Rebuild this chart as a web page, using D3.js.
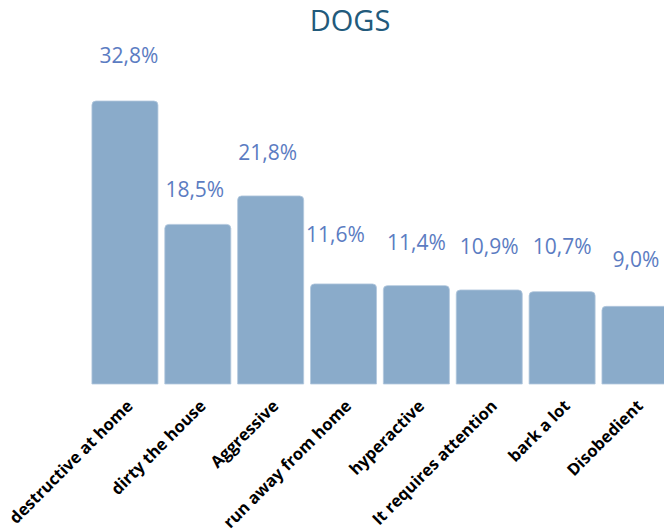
<!DOCTYPE html>
<html>
<head>
<meta charset="utf-8">
<script src="https://cdn.jsdelivr.net/npm/d3@7"></script>
<style>
  body { margin: 0; background: #fff; }
  svg { display: block; }
</style>
</head>
<body>
<div id="chart"></div>
<script>
// chart data
var title = "DOGS";
var categories = ["destructive at home", "dirty the house", "Aggressive", "run away from home",
  "hyperactive", "It requires attention", "bark a lot", "Disobedient"];
var values = [32.8, 18.5, 21.8, 11.6, 11.4, 10.9, 10.7, 9.0];

// hand nudges for the value labels, as in the original
var labelDx = [4, -3, -3, -8, 0, 0, 0, 1];
var labelDy = [-1, 10, 1, -5, 1, 1, -1, -2];

var width = 664, height = 532;
var baseY = 384, topY = 101;

var svg = d3.select("#chart").append("svg")
  .attr("width", width)
  .attr("height", height);

var x = d3.scaleBand()
  .domain(categories)
  .range([88.5, 671.4])
  .paddingInner(0.094)
  .paddingOuter(0.047);

var y = d3.scaleLinear()
  .domain([0, d3.max(values)])
  .range([baseY, topY]);

// title
svg.append("text")
  .attr("x", 350)
  .attr("y", 31)
  .attr("text-anchor", "middle")
  .style("font-family", "'Open Sans', sans-serif")
  .style("font-size", "29px")
  .style("fill", "#225a7b")
  .text(title);

// bars with rounded top corners
function barPath(d, i) {
  var x0 = x(categories[i]), w = x.bandwidth();
  var y0 = y(d), y1 = y(0), r = 4;
  return "M" + x0 + "," + y1 +
    "V" + (y0 + r) +
    "Q" + x0 + "," + y0 + " " + (x0 + r) + "," + y0 +
    "H" + (x0 + w - r) +
    "Q" + (x0 + w) + "," + y0 + " " + (x0 + w) + "," + (y0 + r) +
    "V" + y1 + "Z";
}

svg.selectAll(".bar")
  .data(values)
  .enter().append("path")
  .attr("class", "bar")
  .attr("d", barPath)
  .style("fill", "#8aabca")
  .style("stroke", "#b3c8dd")
  .style("stroke-width", 0.8);

// value labels
svg.selectAll(".val")
  .data(values)
  .enter().append("text")
  .attr("class", "val")
  .attr("x", function (d, i) { return x(categories[i]) + x.bandwidth() / 2 + labelDx[i]; })
  .attr("y", function (d, i) { return y(d) - 37 + labelDy[i]; })
  .attr("text-anchor", "middle")
  .style("font-family", "'Open Sans', sans-serif")
  .style("font-size", "21px")
  .style("fill", "#5b7cc2")
  .text(function (d) { return d.toFixed(1).replace(".", ",") + "%"; });

// category axis
var axis = svg.append("g")
  .attr("transform", "translate(0," + baseY + ")")
  .call(d3.axisBottom(x).tickSize(0).tickSizeOuter(0));
axis.select(".domain").remove();
axis.selectAll("text")
  .attr("x", null)
  .attr("y", null)
  .attr("dy", null)
  .attr("transform", "translate(9,23) rotate(-45)")
  .attr("text-anchor", "end")
  .style("font-family", "'Open Sans', sans-serif")
  .style("font-size", "16.5px")
  .style("font-weight", "bold")
  .style("fill", "#000");
</script>
</body>
</html>
